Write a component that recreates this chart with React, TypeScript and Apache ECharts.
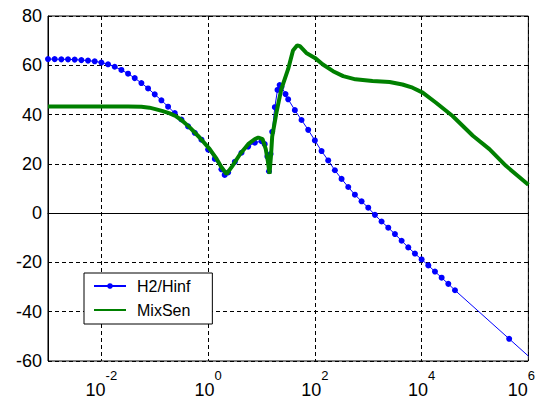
import React, { useEffect, useRef } from "react";
import * as echarts from "echarts";

// H2/Hinf: log10(frequency) and magnitude (dB), points drawn with markers
const h2DotExp = [
  -3, -2.875, -2.75, -2.625, -2.5, -2.375, -2.25, -2.125, -2, -1.875, -1.75, -1.625, -1.5, -1.375,
  -1.25, -1.125, -1, -0.875, -0.75, -0.625, -0.5, -0.375, -0.25, -0.125, 0, 0.125, 0.25, 0.31,
  0.375, 0.5, 0.625, 0.75, 0.875, 1.0, 1.06, 1.11, 1.14, 1.17, 1.2, 1.25, 1.3, 1.34, 1.375, 1.45,
  1.5, 1.625, 1.75, 1.875, 2, 2.125, 2.25, 2.375, 2.5, 2.625, 2.75, 2.875, 3, 3.125, 3.25, 3.375,
  3.5, 3.625, 3.75, 3.875, 4, 4.125, 4.25, 4.375, 4.5, 4.625, 5.64,
];
const h2DotVal = [
  62.5, 62.5, 62.4, 62.4, 62.3, 62.1, 61.9, 61.6, 61.1, 60.4, 59.4, 58.1, 56.6, 54.8,
  52.8, 50.6, 48.2, 45.8, 43.2, 40.6, 38.0, 35.2, 32.6, 29.8, 25.8, 22.0, 17.8, 15.5,
  16.5, 20.8, 24.5, 27.0, 28.6, 29.2, 28.0, 23.0, 17.0, 24.0, 33.0, 43.0, 50.0, 52.0, 51.3, 48.3,
  46.2, 41.8, 37.8, 33.8, 29.5, 25.2, 21.4, 17.4, 13.9, 10.6, 7.5, 4.8, 2.2, -0.7, -3.4, -5.9,
  -8.5, -11.2, -13.9, -16.4, -18.8, -21.2, -23.7, -26.2, -28.7, -31.3, -51.0,
];
// H2/Hinf tail drawn as line only
const h2LineExp = [6];
const h2LineVal = [-58.0];

// MixSen: log10(frequency) and magnitude (dB)
const mixExp = [
  -3, -1.5, -1.25, -1.1, -0.97, -0.85, -0.72, -0.6, -0.5, -0.34, -0.16, 0.03, 0.16, 0.25, 0.345,
  0.45, 0.6, 0.75, 0.87, 0.94, 1.02, 1.08, 1.12, 1.15, 1.18, 1.2, 1.28, 1.37, 1.5, 1.59, 1.67,
  1.72, 1.84, 2.0, 2.15, 2.34, 2.53, 2.76, 3.08, 3.4, 3.64, 3.83, 4.02, 4.27, 4.58, 4.96, 5.27,
  5.58, 6,
];
const mixVal = [
  43.3, 43.3, 43.2, 42.8, 42.1, 41.4, 40.5, 39.3, 37.8, 34.7, 30.7, 26.0, 22.0, 18.6, 15.9,
  19.0, 24.0, 28.0, 30.0, 30.7, 30.0, 26.0, 21.0, 16.0, 24.0, 31.0, 40.8, 50.2, 58.5, 66.0, 68.1,
  67.8, 65.0, 63.0, 60.3, 57.6, 55.6, 54.3, 53.6, 53.2, 52.2, 50.9, 48.9, 44.8, 39.4, 31.4, 26.0,
  19.2, 11.5,
];

const xTickValues = [0.01, 1, 100, 10000, 1000000];
const seriesNames = ["H2/Hinf", "MixSen"];

const FONT = "'Liberation Sans', Arial, sans-serif";

export default function App() {
  const ref = useRef<HTMLDivElement>(null);
  useEffect(() => {
    if (!ref.current) return;
    const chart = echarts.init(ref.current, undefined, { renderer: "svg" });
    const h2Data = h2DotExp
      .map((e, i) => ({ value: [Math.pow(10, e), h2DotVal[i]] as any }))
      .concat(
        h2LineExp.map((e, i) => ({ value: [Math.pow(10, e), h2LineVal[i]] as any, symbol: "none" } as any))
      );
    const mixData = mixExp.map((e, i) => [Math.pow(10, e), mixVal[i]]);
    chart.setOption({
      animation: false,
      backgroundColor: "#fff",
      textStyle: { fontFamily: FONT },
      grid: {
        left: 48,
        top: 16,
        right: 22,
        bottom: 36,
        show: true,
        borderColor: "#000",
        borderWidth: 1,
        backgroundColor: "#fff",
      },
      legend: {
        orient: "vertical",
        left: 84,
        top: 273,
        data: [
          { name: seriesNames[0] },
          { name: seriesNames[1], itemStyle: { opacity: 0 } },
        ],
        backgroundColor: "#fff",
        borderColor: "#000",
        borderWidth: 1,
        borderRadius: 0,
        padding: [5, 22, 6, 9],
        itemWidth: 32,
        itemHeight: 7,
        itemGap: 8,
        textStyle: { fontSize: 16, color: "#000", fontFamily: FONT, padding: [0, 0, 0, 6] },
      },
      xAxis: {
        type: "log",
        logBase: 10,
        min: 0.001,
        max: 1000000,
        axisLine: { show: true, lineStyle: { color: "#000", width: 1 } },
        axisTick: { show: false, customValues: xTickValues },
        axisLabel: {
          customValues: xTickValues,
          margin: 8,
          formatter: (v: number) => {
            const ex = Math.round(Math.log10(v));
            return ex >= 6 ? `{b|10}{eR|${ex}}` : `{b|10}{e|${ex}}`;
          },
          rich: {
            b: { fontSize: 18, color: "#000", fontFamily: FONT, verticalAlign: "bottom", lineHeight: 30 },
            e: { fontSize: 13, color: "#000", fontFamily: FONT, verticalAlign: "top", lineHeight: 10 },
            eR: {
              fontSize: 13,
              color: "#000",
              fontFamily: FONT,
              verticalAlign: "top",
              lineHeight: 10,
              padding: [0, 14, 0, 0],
            },
          },
        },
        splitLine: { show: true, lineStyle: { color: "#000", type: [4, 3], width: 1 } },
      },
      yAxis: {
        type: "value",
        min: -60,
        max: 80,
        interval: 20,
        axisLine: { show: true, lineStyle: { color: "#000", width: 1 } },
        axisTick: { show: false },
        axisLabel: { fontSize: 18, color: "#000", fontFamily: FONT, margin: 6 },
        splitLine: { show: true, lineStyle: { color: "#000", type: [4, 3], width: 1 } },
      },
      series: [
        {
          name: seriesNames[0],
          type: "line",
          data: h2Data,
          symbol: "circle",
          symbolSize: 6,
          showSymbol: true,
          showAllSymbol: true,
          lineStyle: { color: "#0000ff", width: 1 },
          itemStyle: { color: "#0000ff" },
          z: 3,
        },
        {
          name: seriesNames[1],
          type: "line",
          data: mixData,
          symbol: "none",
          showSymbol: false,
          lineStyle: { color: "#008000", width: 4 },
          itemStyle: { color: "#008000" },
          z: 4,
        },
      ],
    });
    return () => chart.dispose();
  }, []);
  return (
    <div
      ref={ref}
      style={{ position: "fixed", left: 0, top: 0, width: 552, height: 399, background: "#fff" }}
    />
  );
}
